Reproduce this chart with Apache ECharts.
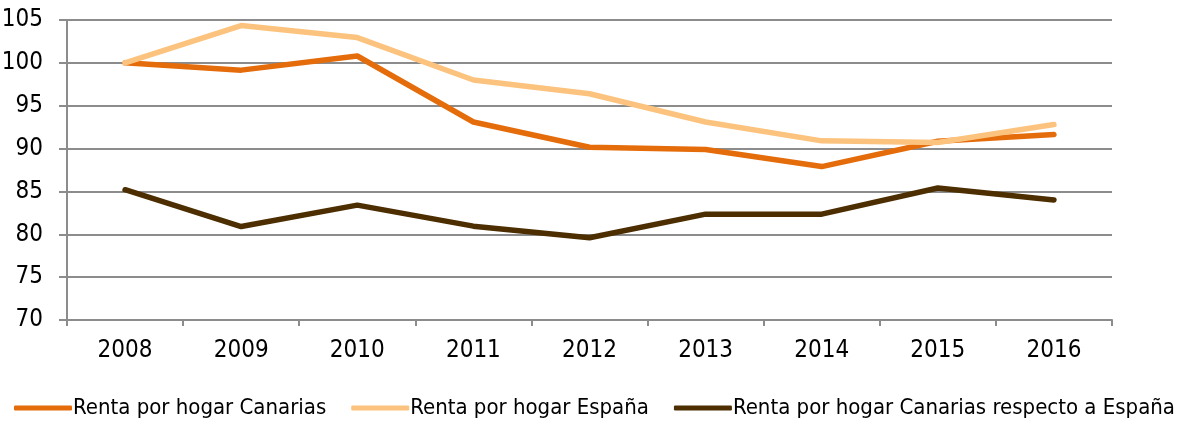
<!DOCTYPE html>
<html>
<head>
    <meta charset="utf-8">
    <title>Renta por hogar</title>
    <script src="https://cdn.jsdelivr.net/npm/echarts@6/dist/echarts.min.js"></script>
    <style>
        html, body { margin: 0; padding: 0; background: #fff; }
        #main { width: 1189px; height: 423px; }
    </style>
</head>
<body>
    <div id="main"></div>
    <script>
        var years = ['2008', '2009', '2010', '2011', '2012', '2013', '2014', '2015', '2016'];
        var rentaCanarias = [100, 99.15, 100.8, 93.1, 90.15, 89.9, 87.9, 90.85, 91.65];
        var rentaEspana = [100, 104.35, 102.95, 98.0, 96.4, 93.1, 90.9, 90.7, 92.8];
        var canariasRespectoEspana = [85.2, 80.9, 83.4, 80.95, 79.6, 82.35, 82.35, 85.4, 84.0];

        var font = '"DejaVu Sans Condensed", sans-serif';
        var gridColor = '#8c8c8c';

        var myChart = echarts.init(document.getElementById('main'));

        function line(name, data, color) {
            return {
                name: name,
                type: 'line',
                data: data,
                symbol: 'none',
                lineStyle: { width: 5.5, color: color, cap: 'round', join: 'round' },
                itemStyle: { color: color }
            };
        }

        var option = {
            animation: false,
            grid: { left: 67, right: 77, top: 20, bottom: 103, outerBoundsMode: 'none' },
            legend: {
                left: 14,
                top: 397,
                width: 1175,
                padding: 0,
                icon: 'roundRect',
                itemWidth: 58,
                itemHeight: 5,
                itemGap: 25,
                textStyle: { fontFamily: font, fontSize: 22, color: '#000', padding: [0, 0, 0, -4] },
                data: ['Renta por hogar Canarias', 'Renta por hogar España', 'Renta por hogar Canarias respecto a España']
            },
            xAxis: {
                type: 'category',
                data: years,
                boundaryGap: true,
                axisLine: { lineStyle: { color: gridColor, width: 2 } },
                axisTick: { show: true, length: 6, lineStyle: { color: gridColor, width: 2 } },
                axisLabel: { fontFamily: font, fontSize: 24, color: '#000', margin: 19 }
            },
            yAxis: {
                type: 'value',
                min: 70,
                max: 105,
                interval: 5,
                axisLine: { show: true, lineStyle: { color: gridColor, width: 2 } },
                axisTick: { show: true, length: 8, lineStyle: { color: gridColor, width: 2 } },
                splitLine: { lineStyle: { color: gridColor, width: 2 } },
                axisLabel: { fontFamily: font, fontSize: 24, color: '#000', margin: 24 }
            },
            series: [
                line('Renta por hogar Canarias', rentaCanarias, '#E46C0A'),
                line('Renta por hogar España', rentaEspana, '#FCC37E'),
                line('Renta por hogar Canarias respecto a España', canariasRespectoEspana, '#4D2E00')
            ]
        };

        myChart.setOption(option);
    </script>
</body>
</html>
